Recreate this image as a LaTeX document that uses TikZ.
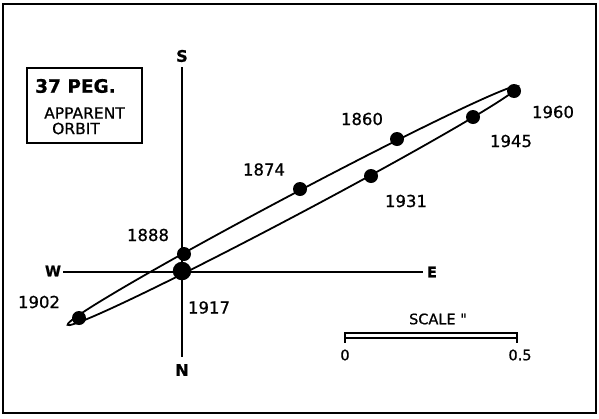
\documentclass[tikz,border=0pt]{standalone}
\usepackage{fontspec}
\setmainfont{DejaVu Sans}[FakeBold=0.8]
\newfontfamily\rawfont{DejaVu Sans}[FakeBold=0.8]
\begin{document}
\begin{tikzpicture}[x=1pt,y=-1pt,
  line/.style={line width=1.8pt},
  dot/.style={circle,fill=black,inner sep=0pt,minimum size=14pt},
  bigdot/.style={circle,fill=black,inner sep=0pt,minimum size=18.5pt},
  year/.style={font=\fontsize{16.5}{16.5}\selectfont,inner sep=0pt},
  small/.style={font=\fontsize{14.5}{14.5}\selectfont,inner sep=0pt},
  dir/.style={font=\fontsize{16}{16}\selectfont\bfseries,inner sep=0pt},
  dirsmall/.style={font=\fontsize{14.5}{14.5}\selectfont\bfseries,inner sep=0pt},
  boxtxt/.style={font=\fontsize{15.5}{15.5}\selectfont,inner sep=0pt}]
\useasboundingbox (0,0) rectangle (599,418);
\draw[line] (3,4) rectangle (596,413);
% title box
\draw[line] (27,68) rectangle (142,143);
\node[font=\fontsize{18.5}{18.5}\selectfont\bfseries,inner sep=0pt] (title) at (75.5,86) {37 PEG.};
\node[boxtxt] (app) at (84.5,113) {APPARENT};
\node[boxtxt] (orb) at (76,128.5) {ORBIT};
% axes
\node[dir] (S) at (182,56) {S};
\node[dir] (N) at (182,370) {N};
\node[dirsmall] (W) at (53,271) {W};
\node[dirsmall] (E) at (432,272) {E};
\coordinate (top) at (182,67);
\coordinate (bot) at (182,357);
\coordinate (left) at (63,272);
\coordinate (right) at (423,272);
\draw[line] (top) -- (bot);
\draw[line] (left) -- (right);
% orbit
\coordinate (c) at (293,205.5);
\draw[line,rotate around={27.9:(c)}] (c) ellipse [x radius=255pt, y radius=10.2pt];
% dots
\node[dot] (d1860) at (397,139) {};
\node[dot] (d1874) at (300,189) {};
\node[dot] (d1888) at (184,254) {};
\node[dot] (d1902) at (79,318) {};
\node[bigdot] (d1917) at (182,271) {};
\node[dot] (d1931) at (371,176) {};
\node[dot] (d1945) at (473,117) {};
\node[dot] (d1960) at (514,91) {};
% year labels
\node[year] (l1860) at (362,119) {1860};
\node[year] (l1874) at (264,169.5) {1874};
\node[year] (l1888) at (148,235) {1888};
\node[year] (l1902) at (39,302) {1902};
\node[year] (l1917) at (209,307.5) {1917};
\node[year] (l1931) at (406,201) {1931};
\node[year] (l1945) at (511,141) {1945};
\node[year] (l1960) at (553,112) {1960};
% scale
\node[small] (scale) at (438,319) {SCALE {\rawfont "}};
\coordinate (s0) at (345,333);
\coordinate (s1) at (517,338);
\draw[line width=1.3pt] (s0) rectangle (s1);
\draw[line width=1.3pt] (s0) -- ++(0,10);
\draw[line width=1.3pt] (s1 |- s0) -- ++(0,10);
\node[small] (z0) at (345,355) {0};
\node[small] (z5) at (520,355) {0.5};
\end{tikzpicture}
\end{document}
